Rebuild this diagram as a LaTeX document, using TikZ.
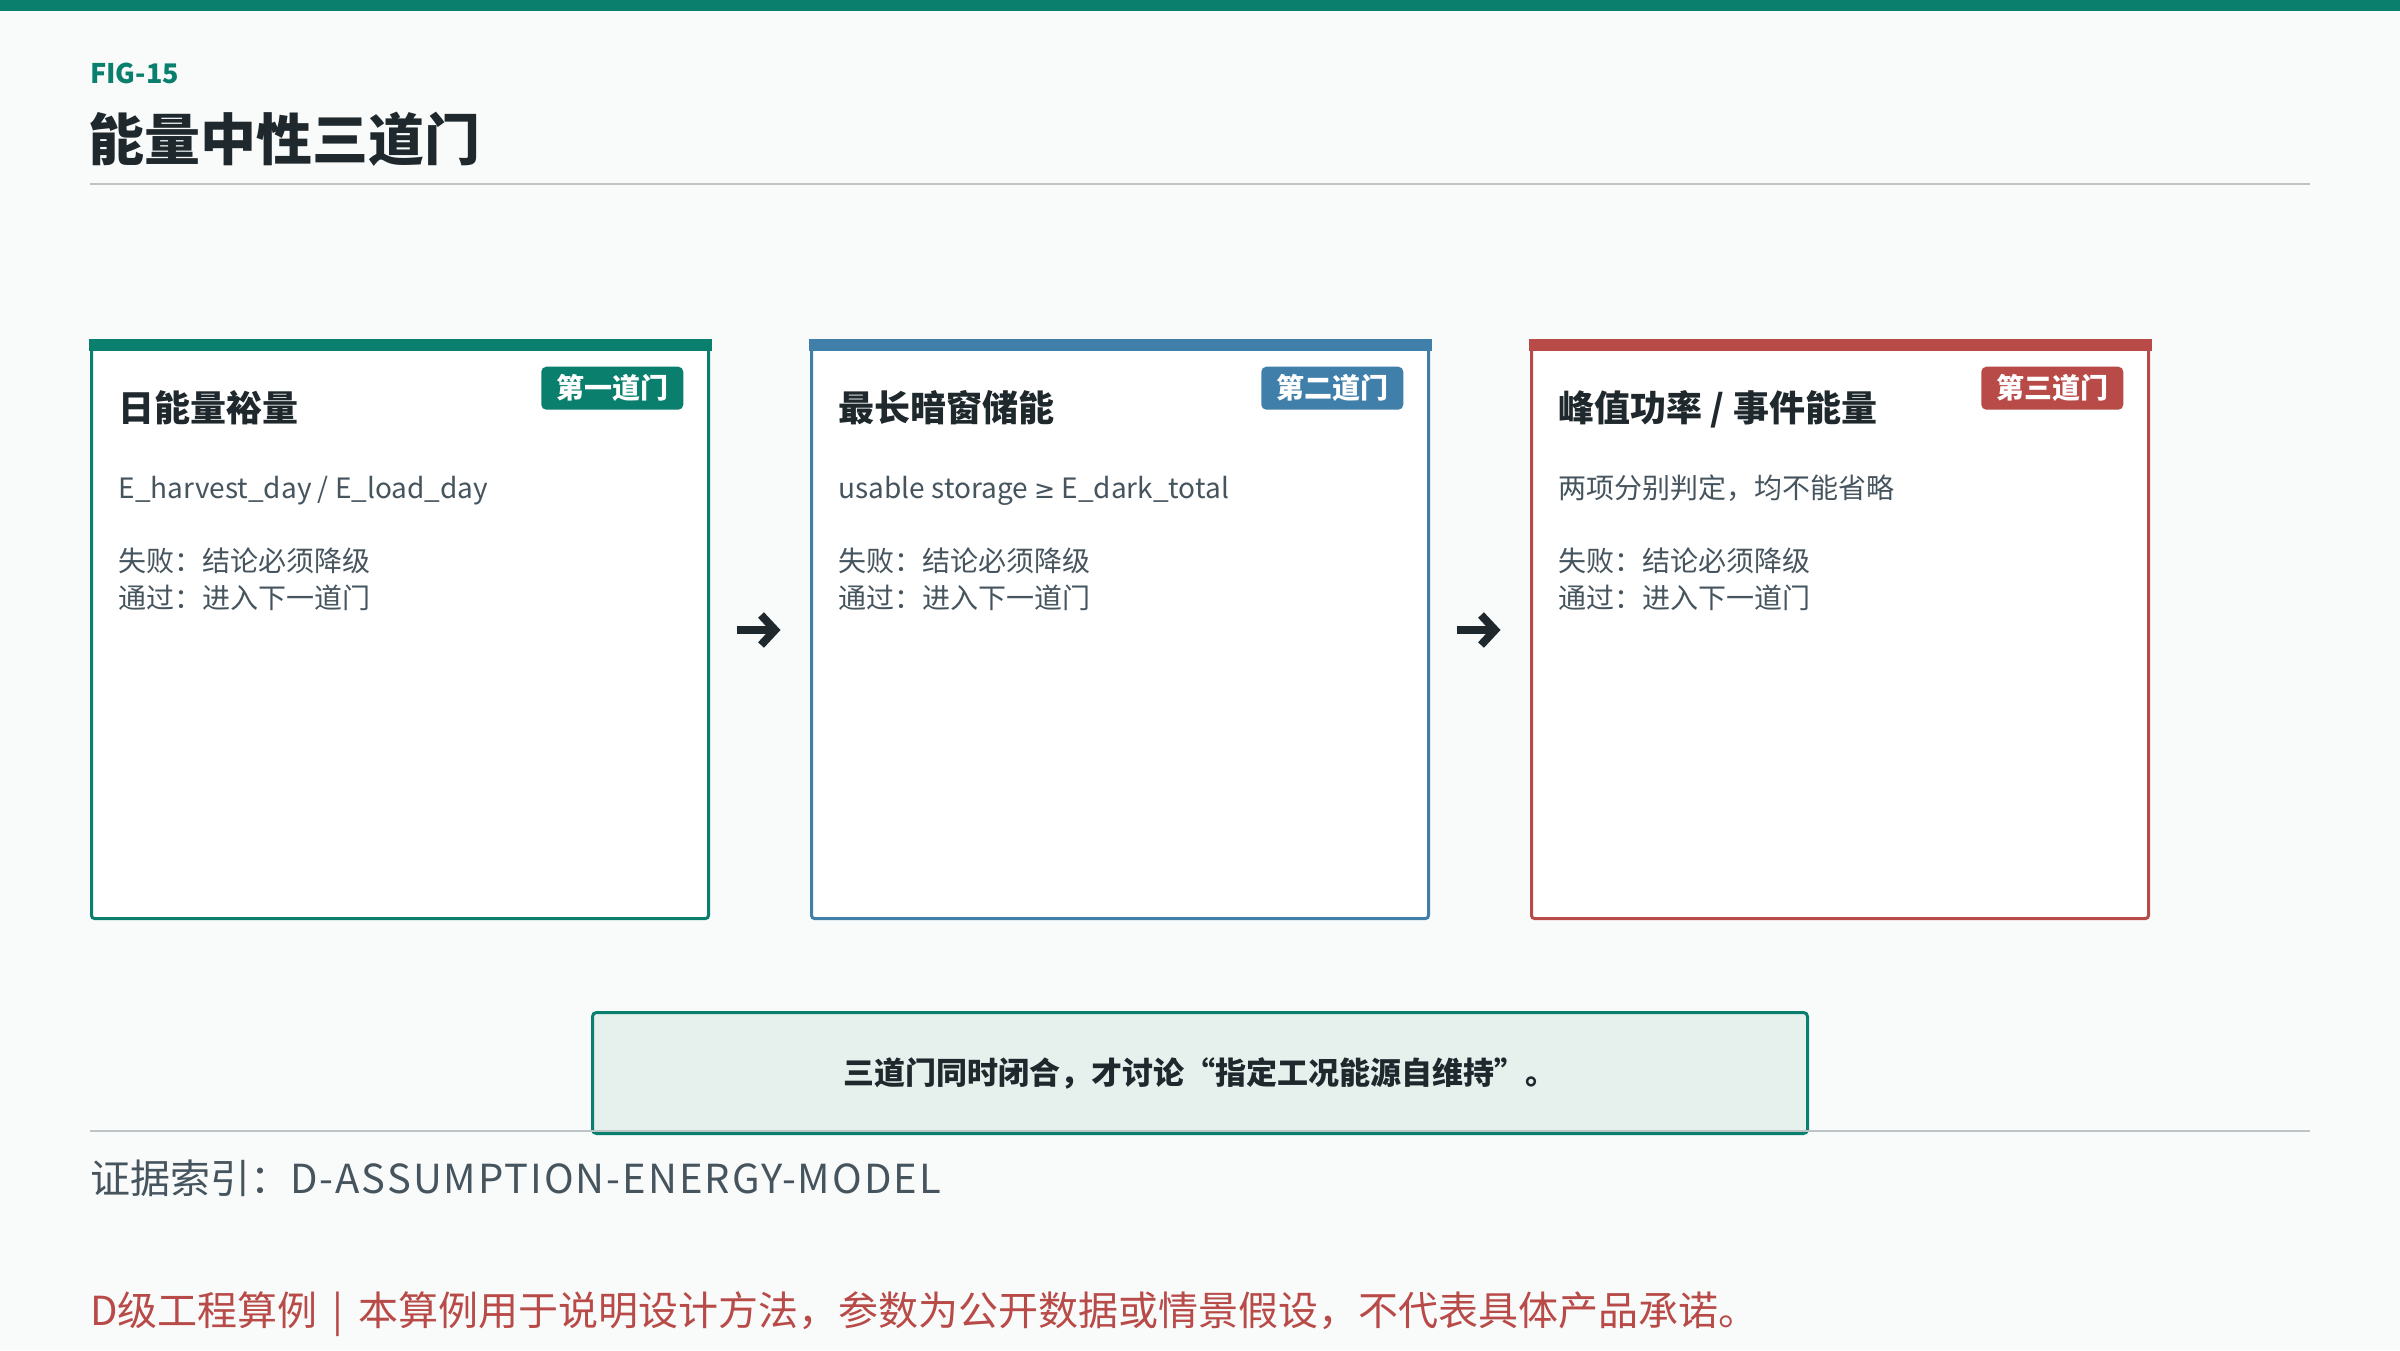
\documentclass[tikz,border=0pt]{standalone}
\usepackage{fontspec}
\setmainfont{Noto Sans CJK SC}
\newfontfamily\symfont{DejaVu Sans}[Scale=0.9]
\usetikzlibrary{arrows.meta}
\definecolor{cbg}{HTML}{F9FBFB}
\definecolor{cteal}{HTML}{0A7F6D}
\definecolor{cblue}{HTML}{407FAA}
\definecolor{cred}{HTML}{B84A48}
\definecolor{cdark}{HTML}{1F282C}
\definecolor{cgrey}{HTML}{46545E}
\definecolor{crule}{HTML}{BDC4C8}
\definecolor{cpale}{HTML}{E6F1EE}
\newcommand\fsz[1]{\fontsize{#1pt}{#1pt}\selectfont}
\tikzset{
  gatebox/.style={draw=#1, fill=white, line width=3pt, rounded corners=3pt,
    minimum width=617pt, minimum height=577pt, inner sep=0pt},
  badge/.style={fill=#1, rounded corners=5pt, minimum width=142pt, minimum height=43pt,
    inner sep=0pt, text=white, font=\fsz{28}\bfseries, anchor=north east},
  gtitle/.style={anchor=base west, inner sep=0pt, text=cdark, font=\fsz{36}\bfseries},
  gbody/.style={anchor=base west, inner sep=0pt, text=cgrey, font=\fsz{28}},
  flowarrow/.style={draw=cdark, line width=8pt,
    -{Straight Barb[length=14pt, width=30pt]}, shorten <=26.5pt, shorten >=29.5pt},
}
\begin{document}
\begin{tikzpicture}[x=1pt, y=-1pt]
\fill[cbg] (0,0) rectangle (2400,1350);
\useasboundingbox (0,0) rectangle (2400,1350);
\fill[cteal] (0,0) rectangle (2400,11);
\node[anchor=base west, inner sep=0pt, text=cteal, font=\fsz{27}\bfseries] (fig) at (90,83) {FIG-15};
\node[anchor=base west, inner sep=0pt, text=cdark, font=\fsz{56}\bfseries] (title) at (88,160) {能量中性三道门};
\draw[crule, line width=2pt] (90,184) -- (2310,184);

% gate boxes
\foreach \n/\cx/\col in {b1/400/cteal, b2/1120/cblue, b3/1840/cred}{
  \node[gatebox=\col] (\n) at (\cx,630) {};
  \fill[\col] ([xshift=-1.5pt,yshift=1.5pt]\n.north west) rectangle ([xshift=1.5pt,yshift=-10.5pt]\n.north east);
}
\node[badge=cteal] (g1) at ([xshift=-26.5pt,yshift=-26.5pt]b1.north east) {第一道门};
\node[badge=cblue] (g2) at ([xshift=-26.5pt,yshift=-26.5pt]b2.north east) {第二道门};
\node[badge=cred]  (g3) at ([xshift=-26.5pt,yshift=-26.5pt]b3.north east) {第三道门};

\node[gtitle] (t1) at ([xshift=28.5pt,yshift=-81.5pt]b1.north west) {日能量裕量};
\node[gtitle] (t2) at ([xshift=28.5pt,yshift=-81.5pt]b2.north west) {最长暗窗储能};
\node[gtitle] (t3) at ([xshift=28.5pt,yshift=-81.5pt]b3.north west) {峰值功率 / 事件能量};

\node[gbody] (f1) at ([xshift=28.5pt,yshift=-158.5pt]b1.north west) {E\_harvest\_day / E\_load\_day};
\node[gbody] (f2) at ([xshift=28.5pt,yshift=-158.5pt]b2.north west) {usable storage {\symfont ≥} E\_dark\_total};
\node[gbody] (f3) at ([xshift=28.5pt,yshift=-158.5pt]b3.north west) {两项分别判定，均不能省略};

\foreach \n in {1,2,3}{
  \node[gbody] (fail\n) at ([xshift=28.5pt,yshift=-231.5pt]b\n.north west) {失败：结论必须降级};
  \node[gbody] (pass\n) at ([xshift=28.5pt,yshift=-268.5pt]b\n.north west) {通过：进入下一道门};
}

\draw[flowarrow] (b1.east) -- (b2.west);
\draw[flowarrow] (b2.east) -- (b3.west);

% conclusion box
\node[draw=cteal, fill=cpale, line width=3pt, rounded corners=4pt,
  minimum width=1215pt, minimum height=121pt, inner sep=0pt,
  text=cdark, font=\fsz{31}\bfseries] (concl) at (1200,1073)
  {三道门同时闭合，才讨论“指定工况能源自维持”。};
\draw[crule, line width=2pt] (90,1131) -- (2310,1131);

\node[anchor=base west, inner sep=0pt, text=cgrey, font=\fsz{40}] (evid) at (90,1193) {证据索引：{\addfontfeature{LetterSpace=5}D-ASSUMPTION-ENERGY-MODEL}};
\node[anchor=base west, inner sep=0pt, text=cred, font=\fsz{40}] (foot) at (90,1325) {D级工程算例\hspace{6pt} | \hspace{6pt}本算例用于说明设计方法，参数为公开数据或情景假设，不代表具体产品承诺。};
\end{tikzpicture}
\end{document}
